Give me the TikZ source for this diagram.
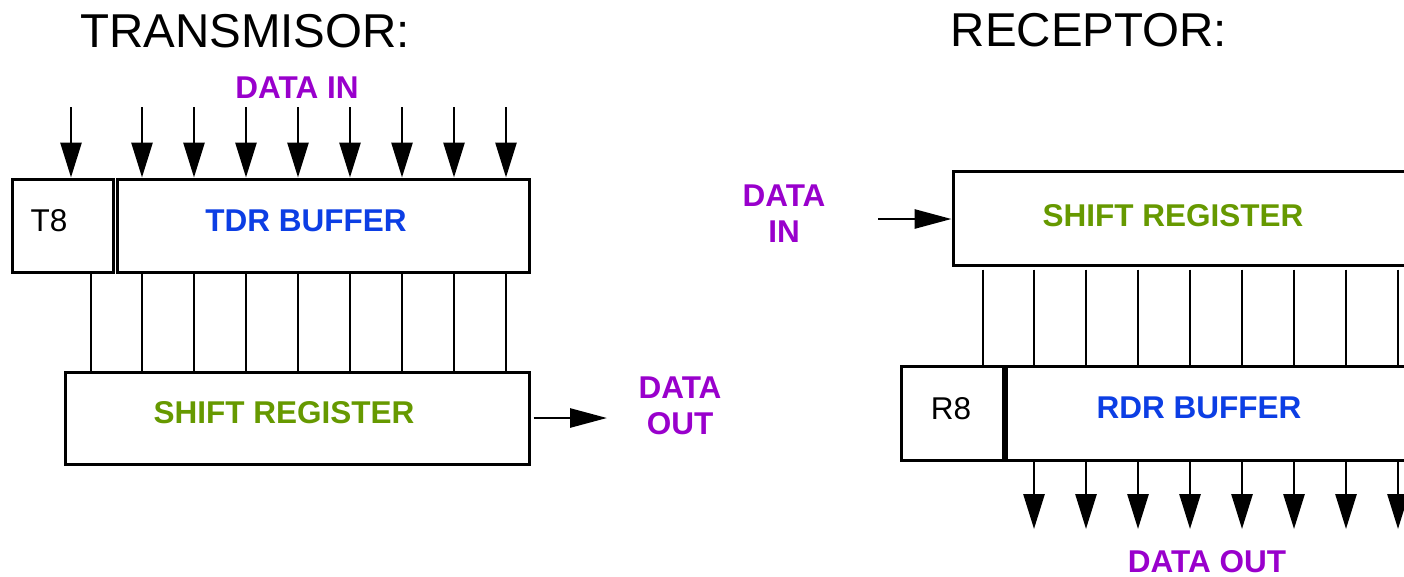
\documentclass[tikz,border=0pt]{standalone}
\usepackage{fontspec}
\setmainfont{Liberation Sans}
\usetikzlibrary{arrows.meta}
\definecolor{lblpurple}{RGB}{153,0,204}
\definecolor{lblblue}{RGB}{12,62,228}
\definecolor{lblgreen}{RGB}{102,153,0}
\begin{document}
\begin{tikzpicture}[x=1pt,y=-1pt,
  box/.style={draw,line width=3pt,rectangle,inner sep=0pt},
  titletext/.style={font=\fontsize{47.5}{57}\selectfont,anchor=base,inner sep=0pt},
  lbl/.style={font=\bfseries\fontsize{31.5}{36}\selectfont,align=center,inner sep=0pt},
  plaintext/.style={font=\fontsize{31.5}{36}\selectfont,anchor=base,inner sep=0pt},
  wire/.style={line width=2.8pt},
  bigarrow/.style={line width=2.8pt,-{Triangle[length=35pt,width=21pt]}},
  sidearrow/.style={line width=2.8pt,-{Triangle[length=37pt,width=19pt]}}]
\clip (0,0) rectangle (1404,576);

% ---------- TRANSMISOR ----------
\node[titletext] (ttitle) at (245,47) {TRANSMISOR:};
\node[lbl,text=lblpurple,anchor=base] (tdatain) at (297,98) {DATA IN};

\node[box,minimum width=101pt,minimum height=93pt] (t8) at (62.5,225.5) {};
\node[box,minimum width=412pt,minimum height=93pt] (tdr) at (323,225.5) {};
\node[plaintext] (t8lbl) at (49,231) {T8};
\node[lbl,text=lblblue,anchor=base] (tdrlbl) at (306,231) {TDR BUFFER};

\node[box,minimum width=464pt,minimum height=92pt] (tsr) at (297,418) {};
\node[lbl,text=lblgreen,anchor=base] (tsrlbl) at (284,423) {SHIFT REGISTER};

% input arrows
\coordinate (tin0) at (71,107);
\draw[bigarrow] (tin0) -- (tin0 |- t8.north);
\foreach \x [count=\i] in {142,194,246,298,350,402,454,506}{
  \coordinate (tin\i) at (\x,107);
  \draw[bigarrow] (tin\i) -- (tin\i |- tdr.north);
}
% parallel wires TDR -> shift register
\coordinate (tw0) at (91,300);
\draw[wire] (tw0 |- t8.south) -- (tw0 |- tsr.north);
\foreach \x [count=\i] in {142,194,246,298,350,402,454,506}{
  \coordinate (tw\i) at (\x,300);
  \draw[wire] (tw\i |- tdr.south) -- (tw\i |- tsr.north);
}
% serial out
\node[lbl,text=lblpurple] (tdataout) at (680,406) {DATA\\OUT};
\coordinate (tout) at (607,418);
\draw[sidearrow] (tout -| tsr.east) ++(3,0) -- (tout);

% ---------- RECEPTOR ----------
\node[titletext] (rtitle) at (1089,46) {RECEPTOR:};

\node[box,minimum width=467pt,minimum height=94pt] (rsr) at (1186.5,218) {};
\node[lbl,text=lblgreen,anchor=base] (rsrlbl) at (1173,226) {SHIFT REGISTER};

\node[lbl,text=lblpurple] (rdatain) at (784,214) {DATA\\IN};
\coordinate (rin) at (878,219);
\draw[sidearrow] (rin) -- (rin -| rsr.west);

\node[box,minimum width=102pt,minimum height=94pt] (r8) at (952,413) {};
\node[box,minimum width=414pt,minimum height=94pt] (rdr) at (1213,413) {};
\node[plaintext] (r8lbl) at (951,419) {R8};
\node[lbl,text=lblblue,anchor=base] (rdrlbl) at (1199,418) {RDR BUFFER};

% parallel wires shift register -> RDR
\coordinate (rw0) at (983,300);
\draw[wire] (rw0 |- rsr.south) ++(0,3) -- (rw0 |- r8.north);
\foreach \x [count=\i] in {1034,1086,1138,1190,1242,1294,1346,1398}{
  \coordinate (rw\i) at (\x,300);
  \draw[wire] (rw\i |- rsr.south) ++(0,3) -- (rw\i |- rdr.north);
}
% output arrows
\foreach \x [count=\i] in {1034,1086,1138,1190,1242,1294,1346,1398}{
  \coordinate (rout\i) at (\x,529);
  \draw[bigarrow] (rout\i |- rdr.south) -- (rout\i);
}
\node[lbl,text=lblpurple,anchor=base] (rdataout) at (1207,572) {DATA OUT};
\end{tikzpicture}
\end{document}
